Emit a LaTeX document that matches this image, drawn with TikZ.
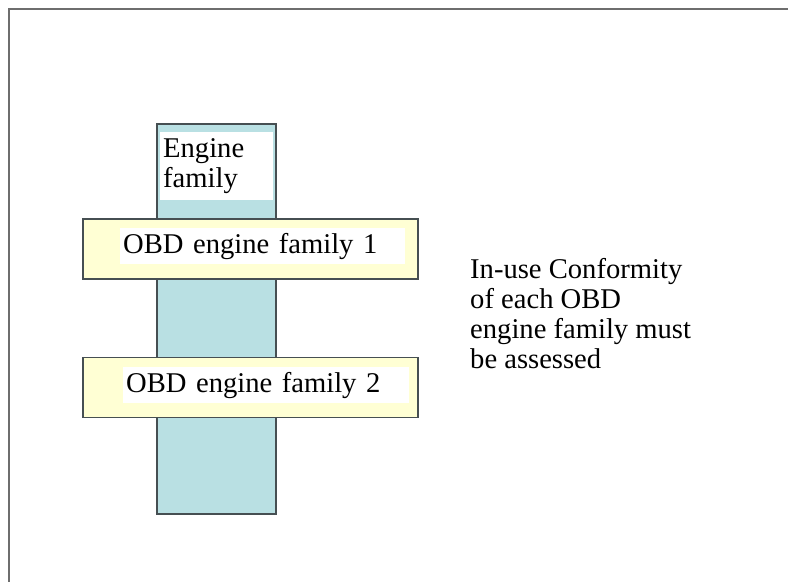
\documentclass[tikz,border=0pt]{standalone}
\usepackage{fontspec}
\setmainfont{Liberation Serif}
\definecolor{colfill}{HTML}{B9E0E3}
\definecolor{obdfill}{HTML}{FFFFD4}
\definecolor{edgegray}{HTML}{464F52}
\definecolor{framegray}{HTML}{6E6E6E}
\begin{document}
\begin{tikzpicture}[x=1pt,y=-1pt,
    every node/.style={font=\fontsize{28.6}{30}\selectfont},
    famcolumn/.style={draw=edgegray, line width=1.5pt, fill=colfill, minimum width=119pt, minimum height=390pt, inner sep=0pt},
    obdbox/.style={draw=edgegray, line width=1.5pt, fill=obdfill, minimum width=335pt, minimum height=60pt, inner sep=0pt},
    whitelabel/.style={fill=white, inner ysep=0pt, inner xsep=3pt, align=left, anchor=north west}]
    \useasboundingbox (0,0) rectangle (788,582);
    \draw[framegray, line width=2.5pt] (788,9) -- (9,9) -- (9,582);
    % engine family column
    \node[famcolumn] (column) at (216.5,319) {};
    \node[whitelabel, text width=107pt, minimum height=68pt] (famlabel) at (160,132) {Engine\\family};
    % OBD families
    \node[obdbox] (obd1box) at (250.5,249) {};
    \node[whitelabel, text width=279pt, minimum height=36pt] (obd1) at (120,228) {OBD engine family 1};
    \node[obdbox] (obd2box) at (250.5,387.5) {};
    \node[whitelabel, text width=280pt, minimum height=36pt] (obd2) at (123,367) {OBD engine family 2};
    % note
    \node[anchor=north west, align=left, inner sep=0pt] (note) at (470,258) {In-use Conformity\\of each OBD\\engine family must\\be assessed};
\end{tikzpicture}
\end{document}
